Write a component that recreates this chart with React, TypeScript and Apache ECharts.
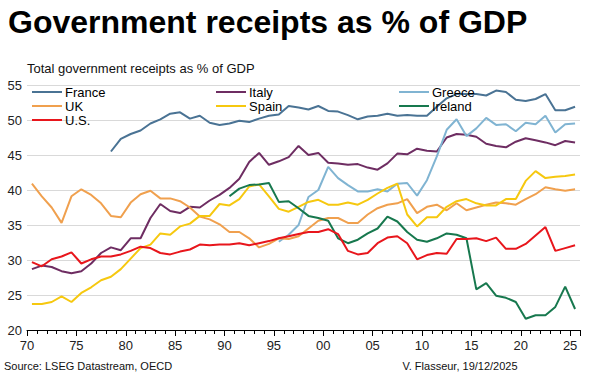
import React, { useEffect, useRef } from "react";
import * as echarts from "echarts";

const years: number[] = Array.from({ length: 56 }, (_, i) => 1970 + i);

const france: (number | null)[] = [
  null, null, null, null, null, null, null, null,
  45.5, 47.3, 48.0, 48.5, 49.5, 50.1, 50.9, 51.1, 50.2, 50.6, 49.6, 49.3,
  49.5, 49.9, 49.7, 50.2, 50.6, 50.8, 52.0, 51.8, 51.5, 52.0,
  51.3, 51.2, 50.7, 50.1, 50.5, 50.6, 50.9, 50.6, 50.7, 50.6,
  50.6, 51.9, 53.1, 53.7, 53.7, 53.7, 53.5, 54.2, 54.0, 52.9,
  52.7, 53.0, 53.7, 51.4, 51.4, 51.9,
];
const italy: (number | null)[] = [
  28.7, 29.2, 29.0, 28.4, 28.1, 28.4, 29.5, 31.0, 31.8, 31.4,
  33.1, 33.1, 36.0, 38.0, 37.0, 36.7, 37.6, 37.5, 38.5, 39.3,
  40.3, 41.6, 44.0, 45.3, 43.6, 44.1, 44.7, 46.3, 45.0, 45.3,
  43.9, 43.8, 43.6, 43.7, 43.2, 42.9, 43.8, 45.2, 45.1, 45.9,
  45.6, 45.5, 47.5, 48.0, 47.9, 47.6, 46.6, 46.3, 46.1, 46.9,
  47.4, 47.1, 46.8, 46.4, 47.0, 46.8,
];
const greece: (number | null)[] = [
  null, null, null, null, null, null, null, null, null, null,
  null, null, null, null, null, null, null, null, null, null,
  null, null, null, null, null,
  32.6, 33.6, 35.0, 39.0, 40.0,
  43.3, 41.7, 40.7, 39.8, 39.8, 40.1, 39.8, 40.9, 41.0, 39.2,
  41.4, 44.8, 48.6, 50.1, 47.7, 48.8, 50.3, 49.3, 49.4, 48.4,
  49.6, 49.4, 50.6, 48.2, 49.4, 49.5,
];
const uk: (number | null)[] = [
  40.9, 39.1, 37.5, 35.3, 39.1, 40.1, 39.3, 38.1, 36.3, 36.1,
  38.2, 39.4, 39.9, 38.8, 38.8, 38.4, 37.5, 36.2, 35.8, 35.1,
  34.0, 34.0, 33.1, 31.8, 32.3, 33.1, 33.0, 33.4, 34.5, 35.6,
  36.0, 36.0, 35.3, 35.3, 36.5, 37.4, 37.9, 38.1, 38.7, 36.7,
  37.6, 37.9, 37.1, 38.1, 37.1, 37.5, 37.9, 38.2, 38.1, 37.9,
  38.7, 39.4, 40.4, 40.1, 39.9, 40.1,
];
const spain: (number | null)[] = [
  23.7, 23.7, 24.0, 24.8, 24.0, 25.3, 26.1, 27.1, 27.6, 28.7,
  30.2, 31.7, 32.2, 33.8, 33.6, 34.8, 35.2, 36.3, 36.3, 38.0,
  37.8, 38.7, 40.5, 40.8, 39.1, 37.3, 36.9, 37.6, 38.3, 38.6,
  37.9, 37.9, 38.2, 37.9, 38.6, 39.5, 40.3, 40.9, 36.5, 34.8,
  36.1, 36.1, 37.6, 38.4, 38.7, 38.1, 37.8, 37.8, 38.7, 38.7,
  41.3, 42.7, 41.7, 41.9, 42.0, 42.2,
];
const ireland: (number | null)[] = [
  null, null, null, null, null, null, null, null, null, null,
  null, null, null, null, null, null, null, null, null, null,
  39.1, 40.2, 40.7, 40.8, 41.0, 38.3, 38.4, 37.4, 36.3, 36.0,
  35.6, 33.1, 32.4, 32.9, 33.8, 34.5, 36.2, 35.5, 34.0, 32.9,
  32.6, 33.1, 33.8, 33.6, 33.1, 25.8, 26.7, 24.9, 24.6, 24.0,
  21.6, 22.1, 22.1, 23.3, 26.2, 23.0,
];
const us: (number | null)[] = [
  29.7, 29.1, 30.1, 30.5, 31.1, 29.5, 30.1, 30.5, 30.5, 30.8,
  31.3, 31.9, 31.7, 31.0, 30.8, 31.2, 31.5, 32.2, 32.1, 32.2,
  32.2, 32.4, 32.1, 32.4, 32.7, 33.1, 33.4, 33.7, 34.0, 34.0,
  34.4, 33.7, 31.3, 30.8, 31.0, 32.4, 33.2, 33.4, 32.4, 30.1,
  30.7, 31.0, 30.9, 33.0, 33.0, 33.1, 32.7, 33.2, 31.6, 31.6,
  32.3, 33.5, 34.7, 31.3, 31.7, 32.1,
];

const seriesNames = ["France", "Italy", "Greece", "UK", "Spain", "Ireland", "U.S."];
const seriesValues = [france, italy, greece, uk, spain, ireland, us];
const seriesColors = ["#4a7394", "#6e2d62", "#80b4d2", "#f0a04e", "#f6c80f", "#17784e", "#e8161c"];

const legendCols = [
  ["France", "UK", "U.S."],
  ["Italy", "Spain"],
  ["Greece", "Ireland"],
];

const FONT = '"Liberation Sans", Arial, sans-serif';

export default function App() {
  const ref = useRef<HTMLDivElement>(null);
  useEffect(() => {
    if (!ref.current) return;
    const chart = echarts.init(ref.current, undefined, { renderer: "svg" });
    const series = seriesNames.map((name, k) => ({
      name,
      type: "line",
      xAxisIndex: 0,
      yAxisIndex: 0,
      symbol: "none",
      color: seriesColors[k],
      lineStyle: { width: 2, color: seriesColors[k] },
      data: years
        .map((y, i) => [y + 0.5, seriesValues[k][i]])
        .filter((d) => d[1] !== null),
    }));
    const legendLefts = [32, 216, 399];
    chart.setOption({
      animation: false,
      textStyle: { fontFamily: FONT },
      grid: { left: 27, right: 20, top: 85, bottom: 46 },
      legend: legendCols.map((col, j) => ({
        data: col,
        orient: "vertical",
        left: legendLefts[j],
        top: 85,
        padding: 0,
        itemGap: 0,
        itemWidth: 30,
        itemHeight: 2,
        icon: "rect",
        selectedMode: false,
        textStyle: { fontSize: 13, color: "#000", fontFamily: FONT, lineHeight: 14, padding: [0, 0, 0, -2] },
      })),
      xAxis: [
        {
          type: "value",
          min: 1970,
          max: 2026,
          interval: 5,
          axisLine: { show: true, lineStyle: { color: "#000", width: 1 } },
          axisTick: { show: true, length: 6, lineStyle: { color: "#000" } },
          axisLabel: {
            fontSize: 13,
            color: "#222",
            margin: 9,
            fontFamily: FONT,
            formatter: (v: number) => (v % 5 === 0 ? String(v % 100).padStart(2, "0") : ""),
          },
          splitLine: { show: false },
        },
        {
          type: "value",
          min: 1970,
          max: 2026,
          interval: 1,
          position: "bottom",
          axisLine: { show: false },
          axisTick: { show: true, length: 4, lineStyle: { color: "#000" } },
          axisLabel: { show: false },
          splitLine: { show: false },
        },
      ],
      yAxis: {
        type: "value",
        min: 20,
        max: 55,
        interval: 5,
        axisLine: { show: false },
        axisTick: { show: false },
        axisLabel: { fontSize: 13, color: "#222", margin: 5, fontFamily: FONT },
        splitLine: { show: true, lineStyle: { color: "#d9d9d9", width: 1 } },
      },
      graphic: [
        {
          type: "text",
          x: 8,
          y: 22,
          style: { text: "Government receipts as % of GDP", font: `bold 32px ${FONT}`, fill: "#000", textVerticalAlign: "middle" },
        },
        {
          type: "text",
          x: 27,
          y: 68,
          style: { text: "Total government receipts as % of GDP", font: `13px ${FONT}`, fill: "#111", textVerticalAlign: "middle" },
        },
        {
          type: "text",
          x: 4,
          y: 366,
          style: { text: "Source: LSEG Datastream, OECD", font: `11px ${FONT}`, fill: "#111", textVerticalAlign: "middle" },
        },
        {
          type: "text",
          x: 460,
          y: 366,
          style: { text: "V. Flasseur, 19/12/2025", font: `11px ${FONT}`, fill: "#111", textAlign: "center", textVerticalAlign: "middle" },
        },
      ],
      series,
    });
    return () => chart.dispose();
  }, []);
  return (
    <div
      ref={ref}
      style={{ position: "fixed", left: 0, top: 0, width: 600, height: 376, background: "#fff" }}
    />
  );
}
